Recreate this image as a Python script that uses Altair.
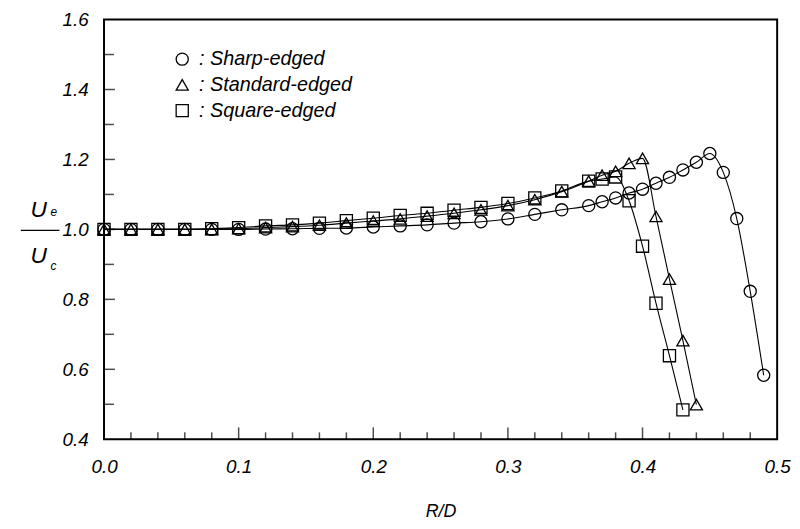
import altair as alt
import pandas as pd

# ---- data ----
rd_sharp = [0.00, 0.02, 0.04, 0.06, 0.08, 0.10, 0.12, 0.14, 0.16, 0.18, 0.20, 0.22, 0.24, 0.26, 0.28, 0.30, 0.32, 0.34,
            0.36, 0.37, 0.38, 0.39, 0.40, 0.41, 0.42, 0.43, 0.44, 0.45, 0.46, 0.47, 0.48, 0.49]
ue_sharp = [1.000, 1.000, 1.000, 1.000, 1.000, 1.000, 1.001, 1.002, 1.003, 1.004, 1.007, 1.010, 1.013, 1.018, 1.022, 1.030, 1.043, 1.056,
            1.068, 1.079, 1.090, 1.104, 1.115, 1.132, 1.149, 1.170, 1.192, 1.217, 1.163, 1.031, 0.823, 0.583]

rd_standard = [0.00, 0.02, 0.04, 0.06, 0.08, 0.10, 0.12, 0.14, 0.16, 0.18, 0.20, 0.22, 0.24, 0.26, 0.28, 0.30, 0.32, 0.34,
               0.36, 0.37, 0.38, 0.39, 0.40, 0.41, 0.42, 0.43, 0.44]
ue_standard = [1.000, 1.000, 1.000, 1.000, 1.000, 1.002, 1.005, 1.008, 1.012, 1.018, 1.024, 1.030, 1.038, 1.046, 1.056, 1.068, 1.085, 1.108,
               1.138, 1.155, 1.166, 1.189, 1.203, 1.037, 0.858, 0.682, 0.499]

rd_square = [0.00, 0.02, 0.04, 0.06, 0.08, 0.10, 0.12, 0.14, 0.16, 0.18, 0.20, 0.22, 0.24, 0.26, 0.28, 0.30, 0.32, 0.34,
             0.36, 0.37, 0.38, 0.39, 0.40, 0.41, 0.42, 0.43]
ue_square = [1.000, 1.000, 1.000, 1.000, 1.002, 1.005, 1.010, 1.013, 1.018, 1.025, 1.032, 1.040, 1.046, 1.055, 1.063, 1.074, 1.090, 1.110,
             1.138, 1.144, 1.150, 1.082, 0.952, 0.789, 0.639, 0.484]

series_names = ["Sharp-edged", "Standard-edged", "Square-edged"]
series_shapes = ["circle", "triangle-up", "square"]

x_major_ticks = [0.0, 0.1, 0.2, 0.3, 0.4, 0.5]
x_minor_ticks = [0.02, 0.04, 0.06, 0.08, 0.12, 0.14, 0.16, 0.18, 0.22, 0.24, 0.26, 0.28,
                 0.32, 0.34, 0.36, 0.38, 0.42, 0.44, 0.46, 0.48]
y_major_ticks = [0.4, 0.6, 0.8, 1.0, 1.2, 1.4, 1.6]
y_minor_ticks = [0.5, 0.7, 0.9, 1.1, 1.3, 1.5]

# ---- tables ----
frames = []
for name, xs, ys in [(series_names[0], rd_sharp, ue_sharp),
                     (series_names[1], rd_standard, ue_standard),
                     (series_names[2], rd_square, ue_square)]:
    frames.append(pd.DataFrame({"rd": xs, "ue": ys, "series": name}))
df = pd.concat(frames, ignore_index=True)

W, H = 680, 424
FONT = "Liberation Sans"

xscale = alt.Scale(domain=[0, 0.5], nice=False, zero=False)
yscale = alt.Scale(domain=[0.4, 1.6], nice=False, zero=False)

base = alt.Chart(df)

lines = base.mark_line(color="black", strokeWidth=1.1, interpolate="monotone").encode(
    x=alt.X("rd:Q", scale=xscale,
            axis=alt.Axis(values=x_major_ticks, format=".1f", ticks=False, domain=False, grid=False,
                          labelFlush=False, labelOverlap=False,
                          labelFont=FONT, labelFontStyle="italic", labelFontSize=19, labelColor="black",
                          labelPadding=19, title="R/D", titleFont=FONT, titleFontStyle="italic",
                          titleFontWeight="normal", titleFontSize=18, titleColor="black", titlePadding=26)),
    y=alt.Y("ue:Q", scale=yscale,
            axis=alt.Axis(values=y_major_ticks, format=".1f", ticks=False, domain=False, grid=False,
                          labelFlush=False, labelOverlap=False,
                          labelFont=FONT, labelFontStyle="italic", labelFontSize=19, labelColor="black",
                          labelPadding=16, title=None)),
    detail="series:N",
    order="rd:Q",
)

points = base.mark_point(filled=False, color="black", strokeWidth=1.3, size=150, opacity=1).encode(
    x=alt.X("rd:Q", scale=xscale),
    y=alt.Y("ue:Q", scale=yscale),
    shape=alt.Shape("series:N",
                    scale=alt.Scale(domain=series_names, range=series_shapes),
                    legend=alt.Legend(orient="none", legendX=69, legendY=30, title=None,
                                      labelExpr="': ' + datum.label",
                                      labelFont=FONT, labelFontStyle="italic", labelFontSize=20,
                                      labelColor="black", labelOffset=7,
                                      symbolSize=150, symbolStrokeColor="black", symbolFillColor="transparent",
                                      symbolStrokeWidth=1.3, rowPadding=6, padding=0)),
)

# inward tick marks
xmaj = alt.Chart(pd.DataFrame({"t": x_major_ticks[1:-1]})).mark_tick(
    color="black", thickness=1.5, size=12, orient="vertical").encode(
    x=alt.X("t:Q", scale=xscale), y=alt.value(H - 6))
xmin = alt.Chart(pd.DataFrame({"t": x_minor_ticks})).mark_tick(
    color="black", thickness=1.5, size=7, orient="vertical").encode(
    x=alt.X("t:Q", scale=xscale), y=alt.value(H - 3.5))
ymaj = alt.Chart(pd.DataFrame({"t": y_major_ticks[1:-1]})).mark_tick(
    color="black", thickness=1.5, size=11, orient="horizontal").encode(
    y=alt.Y("t:Q", scale=yscale), x=alt.value(5.5))
ymin = alt.Chart(pd.DataFrame({"t": y_minor_ticks})).mark_tick(
    color="black", thickness=1.5, size=10, orient="horizontal").encode(
    y=alt.Y("t:Q", scale=yscale), x=alt.value(5))

# y-axis title as a fraction U_e / U_c
title_U_top = alt.Chart(pd.DataFrame({"s": ["U"]})).mark_text(
    font=FONT, fontStyle="italic", fontSize=23, color="black", align="center", baseline="alphabetic"
).encode(text="s:N", x=alt.value(-66), y=alt.value(199))
title_e = alt.Chart(pd.DataFrame({"s": ["e"]})).mark_text(
    font=FONT, fontStyle="italic", fontSize=12, color="black", align="left", baseline="alphabetic"
).encode(text="s:N", x=alt.value(-54), y=alt.value(198))
title_U_bot = alt.Chart(pd.DataFrame({"s": ["U"]})).mark_text(
    font=FONT, fontStyle="italic", fontSize=23, color="black", align="center", baseline="alphabetic"
).encode(text="s:N", x=alt.value(-66), y=alt.value(246))
title_c = alt.Chart(pd.DataFrame({"s": ["c"]})).mark_text(
    font=FONT, fontStyle="italic", fontSize=12, color="black", align="left", baseline="alphabetic"
).encode(text="s:N", x=alt.value(-54), y=alt.value(253))
frac_line = alt.Chart(pd.DataFrame({"s": ["bar"]})).mark_rule(color="black", strokeWidth=1.2).encode(
    x=alt.value(-84), x2=alt.value(-45), y=alt.value(213))

chart = alt.layer(
    lines, points, xmaj, xmin, ymaj, ymin,
    title_U_top, title_e, title_U_bot, title_c, frac_line
).properties(
    width=W, height=H,
    autosize=alt.AutoSizeParams(type="none"),
    padding={"left": 97, "top": 9, "right": 15, "bottom": 90},
    background="white",
).configure_view(
    stroke="black", strokeWidth=2
)

chart.save("out.html", embed_options={"renderer": "svg", "actions": False})
